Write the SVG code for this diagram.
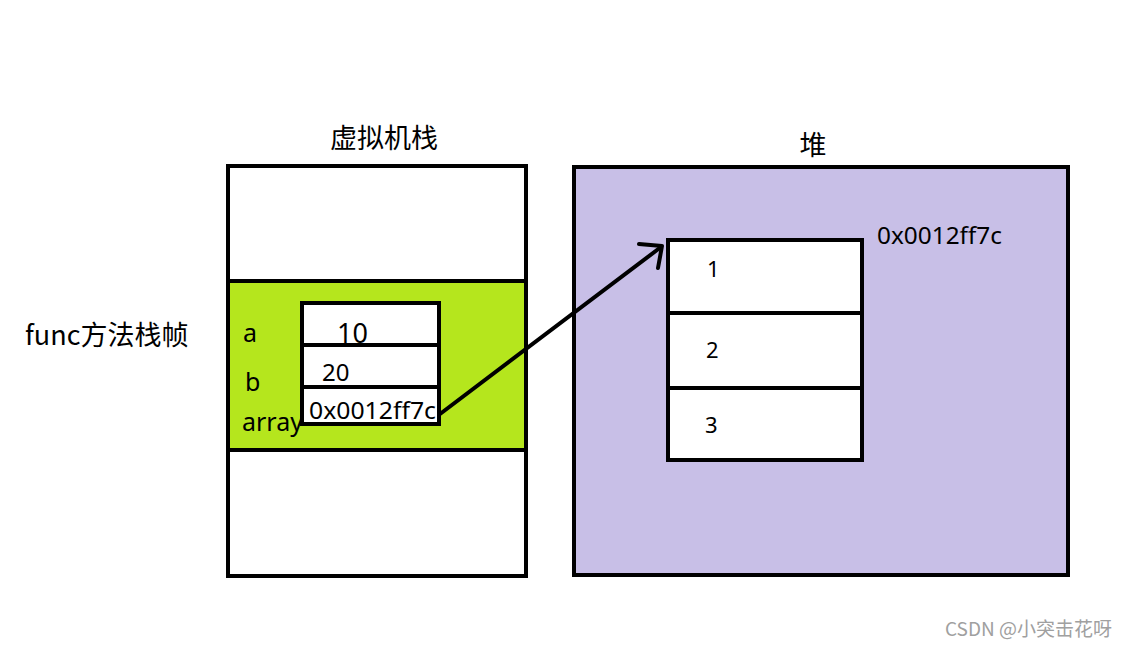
<svg xmlns="http://www.w3.org/2000/svg" width="1131" height="646" viewBox="0 0 1131 646">
<style>
.box{stroke:#000;stroke-width:4;}
.t{font-family:"Noto Sans","Noto Sans CJK SC",sans-serif;fill:#000;}
.c{font-family:"Noto Sans CJK SC","Noto Sans",sans-serif;fill:#000;}
</style>
<rect width="1131" height="646" fill="#fff"/>
<g id="stack">
<rect class="box" x="228" y="166" width="298" height="410" fill="#fff"/>
<rect class="box" x="228" y="281" width="298" height="169" fill="#B5E61D"/>
<text class="c" x="384" y="148" font-size="27" text-anchor="middle">虚拟机栈</text>
<text class="c" x="25" y="345" font-size="27">func方法栈帧</text>
<text class="t" x="243" y="342" font-size="25">a</text>
<text class="t" x="245" y="391" font-size="25">b</text>
<text class="t" x="242" y="431" font-size="25">array</text>
</g>
<g id="frame-vars">
<rect class="box" x="302" y="303" width="137" height="121" fill="#fff"/>
<line class="box" x1="302" y1="345" x2="439" y2="345"/>
<line class="box" x1="302" y1="387" x2="439" y2="387"/>
<text class="t" x="337" y="343" font-size="27">10</text>
<text class="t" x="322" y="381" font-size="24">20</text>
<text class="t" x="309" y="419" font-size="24" textLength="127" lengthAdjust="spacingAndGlyphs">0x0012ff7c</text>
</g>
<g id="heap">
<rect class="box" x="574" y="167" width="494" height="408" fill="#C8BFE7"/>
<text class="c" x="813" y="155" font-size="27" text-anchor="middle">堆</text>
<text class="t" x="877" y="244" font-size="23" textLength="125" lengthAdjust="spacingAndGlyphs">0x0012ff7c</text>
</g>
<g id="array">
<rect class="box" x="668" y="240" width="194" height="220" fill="#fff"/>
<line class="box" x1="668" y1="313" x2="862" y2="313"/>
<line class="box" x1="668" y1="388" x2="862" y2="388"/>
<text class="t" x="707" y="277" font-size="22">1</text>
<text class="t" x="706" y="358" font-size="22">2</text>
<text class="t" x="705" y="433" font-size="22">3</text>
</g>
<g id="connectors">
<line x1="440" y1="414" x2="661" y2="247" stroke="#000" stroke-width="4" stroke-linecap="round"/>
<polyline points="639,244 662,246 658,268" fill="none" stroke="#000" stroke-width="4" stroke-linecap="round" stroke-linejoin="round"/>
</g>
<text class="c" x="945" y="636" font-size="19" style="fill:#a0a0a0">CSDN @小突击花呀</text>
</svg>
